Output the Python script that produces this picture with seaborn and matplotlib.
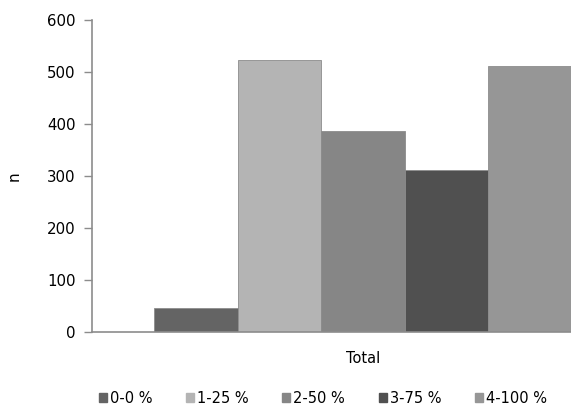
import pandas as pd
import numpy as np
import matplotlib.pyplot as plt
import seaborn as sns

# data
group = ["Total"] * 5
levels = ["0-0 %", "1-25 %", "2-50 %", "3-75 %", "4-100 %"]
n = [46, 524, 386, 312, 512]
colors = ["#646464", "#b4b4b4", "#868686", "#505050", "#969696"]

df = pd.DataFrame({"group": group, "level": levels, "n": n})

sns.set_style("white")
plt.rcParams["font.family"] = ["DejaVu Sans"]
plt.rcParams["text.color"] = "black"

fig = plt.figure(figsize=(5.71, 4.19), dpi=100)
# plot area runs past the right edge of the picture (cropped like the original)
ax = fig.add_axes([92 / 571, 87 / 419, 542 / 571, 312 / 419])

sns.barplot(data=df, x="group", y="n", hue="level", hue_order=levels,
            palette=colors, width=0.77, gap=0, saturation=1,
            edgecolor="#8c8c8c", linewidth=0.6, ax=ax, legend=False)

ax.set_ylim(0, 600)
ax.set_yticks(np.arange(0, 601, 100))
ax.set_xlim(-0.5, 0.5)
ax.set_xlabel("")
ax.set_ylabel("n", fontsize=11, labelpad=18, color="black")
ax.tick_params(axis="y", direction="out", length=6, width=1, color="#8c8c8c",
               labelsize=10.8, pad=6, left=True, labelcolor="black")
ax.tick_params(axis="x", length=0, labelsize=10.5, pad=14, labelcolor="black")
for s in ["top", "right"]:
    ax.spines[s].set_visible(False)
for s in ["left", "bottom"]:
    ax.spines[s].set_color("#8c8c8c")
    ax.spines[s].set_linewidth(1.2)

handles = [plt.Rectangle((0, 0), 1, 1, color=c) for c in colors]
fig.legend(handles, levels, loc="lower center", bbox_to_anchor=(323 / 571, 0.0),
           ncol=5, frameon=False, fontsize=10.5, handlelength=0.55,
           handleheight=0.55, handletextpad=0.2, columnspacing=2.3,
           labelcolor="black")

fig.savefig("out.png", dpi=100)
